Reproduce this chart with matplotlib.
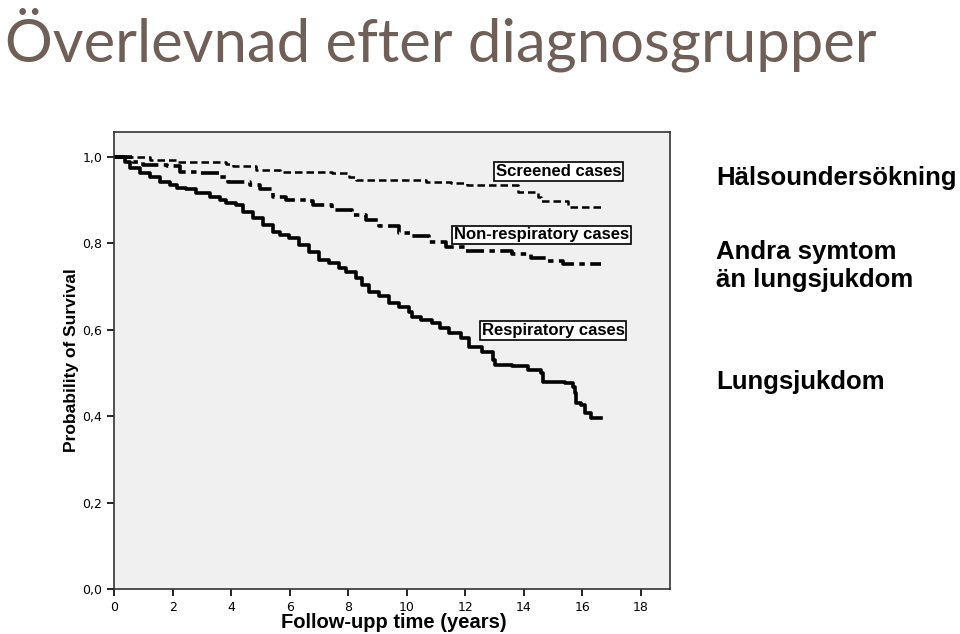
import matplotlib
matplotlib.use("Agg")
import matplotlib.pyplot as plt

# Kaplan-Meier estimates (step values hold from each time)
resp_t = [0, 0.37, 0.54, 0.88, 1.22, 1.57, 1.91, 2.13, 2.47, 2.81, 3.27, 3.61, 3.83,
          4.17, 4.40, 4.74, 5.08, 5.42, 5.65, 5.99, 6.33, 6.67, 7.01, 7.35, 7.69, 7.92,
          8.26, 8.48, 8.71, 9.05, 9.39, 9.73, 10.07, 10.17, 10.5, 10.85, 11.15, 11.43,
          11.87, 12.11, 12.56, 12.96, 13.03, 13.58, 14.15, 14.6, 14.66, 15.41, 15.69,
          15.75, 15.79, 15.96, 16.09, 16.3, 16.64]
resp_s = [1.0, 0.989, 0.974, 0.962, 0.954, 0.943, 0.935, 0.928, 0.925, 0.916, 0.908,
          0.900, 0.893, 0.889, 0.873, 0.858, 0.842, 0.827, 0.819, 0.812, 0.796, 0.781,
          0.762, 0.754, 0.742, 0.734, 0.719, 0.704, 0.688, 0.677, 0.663, 0.652, 0.642,
          0.630, 0.622, 0.615, 0.604, 0.592, 0.581, 0.561, 0.549, 0.530, 0.519, 0.515,
          0.507, 0.500, 0.480, 0.477, 0.468, 0.453, 0.430, 0.426, 0.407, 0.396, 0.396]

nonresp_t = [0, 0.65, 1.0, 1.8, 2.25, 2.93, 3.6, 3.89, 4.63, 4.97, 5.42, 5.88, 6.6,
             6.78, 7.46, 8.14, 8.6, 9.05, 9.73, 10.17, 10.75, 11.33, 12.0, 13.58, 14.26,
             14.83, 15.35, 16.64]
nonresp_s = [1.0, 0.989, 0.981, 0.978, 0.966, 0.962, 0.954, 0.943, 0.935, 0.925, 0.908,
             0.9, 0.899, 0.889, 0.877, 0.866, 0.854, 0.839, 0.823, 0.817, 0.804, 0.792,
             0.783, 0.775, 0.767, 0.76, 0.752, 0.752]

screen_t = [0, 1.22, 2.13, 3.83, 4.06, 4.85, 5.65, 7.46, 8.03, 8.26, 10.65, 11.5, 12.05,
            13.8, 14.5, 14.6, 15.5, 16.7]
screen_s = [1.0, 0.993, 0.989, 0.984, 0.978, 0.970, 0.964, 0.962, 0.954, 0.947, 0.943,
            0.940, 0.934, 0.918, 0.908, 0.899, 0.883, 0.883]

x_ticks = [0, 2, 4, 6, 8, 10, 12, 14, 16, 18]
y_ticks = [0.0, 0.2, 0.4, 0.6, 0.8, 1.0]
y_labels = ["0,0", "0,2", "0,4", "0,6", "0,8", "1,0"]

fig = plt.figure(figsize=(9.6, 6.34), dpi=100)
ax = fig.add_axes([0.119, 0.071, 0.579, 0.721])
ax.set_facecolor("#f0f0f0")

ax.step(resp_t, resp_s, where="post", color="black", lw=2.6)
ax.step(nonresp_t, nonresp_s, where="post", color="black", lw=2.6,
        dashes=(5, 1.5, 1.5, 1.5))
ax.step(screen_t, screen_s, where="post", color="black", lw=1.8, dashes=(3, 1.6))

ax.set_xlim(0, 19)
ax.set_ylim(0, 1.058)
ax.set_xticks(x_ticks)
ax.set_yticks(y_ticks)
ax.set_yticklabels(y_labels)
ax.tick_params(labelsize=9, length=5, width=1.2, colors="black")
for s in ax.spines.values():
    s.set_color("#333333")
    s.set_linewidth(1.2)

ax.set_xlabel("Follow-upp time (years)", fontsize=14.5, fontweight="bold",
              family="Liberation Sans")
ax.xaxis.set_label_coords(0.503, -0.053)
ax.set_ylabel("Probability of Survival", fontsize=12.5, fontweight="bold",
              family="Liberation Sans")
ax.yaxis.set_label_coords(-0.064, 0.5)

box = dict(boxstyle="square,pad=0.1", fc="white", ec="black", lw=1.2)
ax.text(15.2, 0.966, "Screened cases", ha="center", va="center", fontsize=12,
        fontweight="bold", family="Liberation Sans", bbox=box)
ax.text(14.6, 0.82, "Non-respiratory cases", ha="center", va="center", fontsize=12,
        fontweight="bold", family="Liberation Sans", bbox=box)
ax.text(15.0, 0.598, "Respiratory cases", ha="center", va="center", fontsize=12,
        fontweight="bold", family="Liberation Sans", bbox=box)

fig.text(0.005, 0.937, "Överlevnad efter diagnosgrupper", fontsize=43,
         color="#6f5f58", family=["Lato", "DejaVu Sans"], va="center")

fig.text(0.746, 0.72, "Hälsoundersökning", fontsize=18.5, fontweight="bold",
         family="Liberation Sans", va="center")
fig.text(0.746, 0.58, "Andra symtom\nän lungsjukdom", fontsize=18.5, fontweight="bold",
         family="Liberation Sans", va="center", linespacing=1.2)
fig.text(0.746, 0.397, "Lungsjukdom", fontsize=18.5, fontweight="bold",
         family="Liberation Sans", va="center")

fig.savefig("out.png", dpi=100)
